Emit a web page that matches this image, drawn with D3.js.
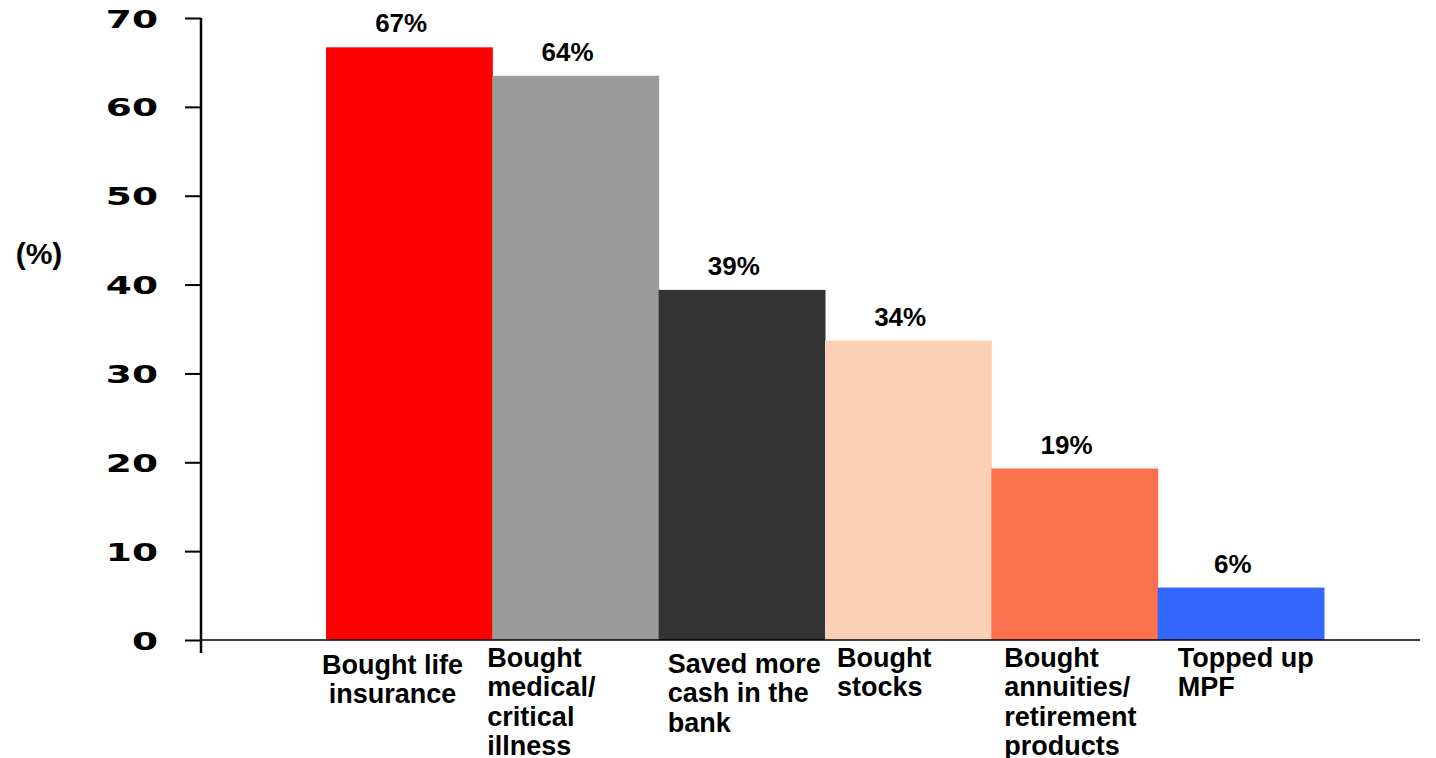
<!DOCTYPE html>
<html>
<head>
<meta charset="utf-8">
<script src="https://cdn.jsdelivr.net/npm/d3@7"></script>
<style>
  body { margin: 0; background: #fff; }
  svg { display: block; }
  .bar-label { font-family: "Liberation Sans", Arial, sans-serif; font-weight: bold; font-size: 26px; }
  .cat-label { font-family: "Liberation Sans", Arial, sans-serif; font-weight: bold; font-size: 27px; }
  .y-title { font-family: "Liberation Sans", Arial, sans-serif; font-weight: bold; font-size: 30px; }
  .y-tick text { font-family: "DejaVu Sans", sans-serif; font-weight: bold; font-size: 25px; }
</style>
</head>
<body>
<svg id="chart" width="1436" height="758"></svg>
<script>
/* chart data */
const categories = ['life', 'medical', 'cash', 'stocks', 'annuities', 'mpf'];
const values = [66.7, 63.5, 39.4, 33.7, 19.3, 5.9];
const valueLabels = ['67%', '64%', '39%', '34%', '19%', '6%'];
const categoryLines = [
    ['Bought life', 'insurance'],
    ['Bought', 'medical/', 'critical', 'illness'],
    ['Saved more', 'cash in the', 'bank'],
    ['Bought', 'stocks'],
    ['Bought', 'annuities/', 'retirement', 'products'],
    ['Topped up', 'MPF']
];
const yTicks = [0, 10, 20, 30, 40, 50, 60, 70];
const colors = ['#ff0000', '#9b9b9b', '#333333', '#fcd0b7', '#fb714c', '#3366ff'];

/* layout: nudges of each label block relative to its bar's left edge */
const labelNudge = [[-4, 7], [-5, 0], [9, 6], [12, 0], [13, 0], [20, 0]];

const svg = d3.select('#chart');

/* scales */
const yScale = d3.scaleLinear().domain([0, 70]).range([640, 18]);
const xScale = d3.scaleBand().domain(categories).range([326, 1324]).padding(0);

/* bars */
svg.selectAll('rect.bar')
    .data(categories)
    .join('rect')
    .attr('class', 'bar')
    .attr('x', d => xScale(d))
    .attr('width', xScale.bandwidth() + 0.5)
    .attr('y', (d, i) => yScale(values[i]))
    .attr('height', (d, i) => yScale(0) - yScale(values[i]))
    .attr('fill', (d, i) => colors[i]);

/* value labels above bars */
svg.selectAll('text.bar-label')
    .data(categories)
    .join('text')
    .attr('class', 'bar-label')
    .attr('x', d => xScale(d) + xScale.bandwidth() / 2 - 8)
    .attr('y', (d, i) => yScale(values[i]) - 15)
    .attr('text-anchor', 'middle')
    .text((d, i) => valueLabels[i]);

/* y axis */
const sx = 1.5;
const yAxis = d3.axisLeft(yScale).tickValues(yTicks).tickSize(16).tickPadding(0);
const gy = svg.append('g')
    .attr('class', 'y-tick')
    .attr('transform', 'translate(201,0)')
    .call(yAxis);
gy.select('.domain').remove();
gy.selectAll('.tick line').attr('stroke', '#000').attr('stroke-width', 2);
gy.selectAll('.tick text')
    .attr('fill', '#000')
    .attr('x', -43 / sx)
    .attr('dy', '0.36em')
    .attr('transform', `scale(${sx},1)`);

/* y axis line, running a little below zero */
svg.append('line')
    .attr('x1', 201).attr('x2', 201)
    .attr('y1', yScale(70)).attr('y2', yScale(0) + 13)
    .attr('stroke', '#000').attr('stroke-width', 2.5);

/* x axis baseline */
svg.append('line')
    .attr('x1', 201).attr('x2', 1420)
    .attr('y1', yScale(0)).attr('y2', yScale(0))
    .attr('stroke', '#000').attr('stroke-width', 1.5);

/* y axis title */
svg.append('text')
    .attr('class', 'y-title')
    .attr('x', 39).attr('y', 264)
    .attr('text-anchor', 'middle')
    .text('(%)');

/* category labels under the bars */
categoryLines.forEach((lines, i) => {
    const left = xScale(categories[i]) + labelNudge[i][0];
    const t = svg.append('text')
        .attr('class', 'cat-label')
        .attr('y', 667 + labelNudge[i][1]);
    lines.forEach((line, j) => {
        t.append('tspan')
            .attr('x', left)
            .attr('dy', j === 0 ? 0 : 29.3)
            .text(line);
    });
    /* first label is centred within its own block */
    if (i === 0) {
        const w = t.node().getBBox().width;
        t.selectAll('tspan')
            .attr('x', left + w / 2)
            .attr('text-anchor', 'middle');
    }
});
</script>
</body>
</html>
